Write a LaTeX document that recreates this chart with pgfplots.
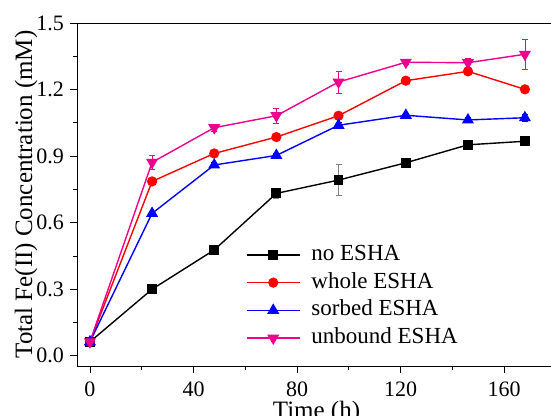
\documentclass[border=0pt]{standalone}
\usepackage{fontspec}
\setmainfont{Liberation Serif}
\usepackage{pgfplots}
\pgfplotsset{compat=1.18}
\begin{document}
\fontsize{23bp}{27bp}\selectfont
\begin{tikzpicture}
\begin{axis}[
  scale only axis, width=479bp, height=343bp,
  xmin=-5, xmax=180, ymin=-0.046, ymax=1.5,
  xtick={0,40,80,120,160}, minor x tick num=1,
  ytick={0,0.3,0.6,0.9,1.2,1.5}, minor y tick num=1,
  xtick pos=bottom, ytick pos=left,
  tick align=outside,
  major tick length=7bp, minor tick length=4bp,
  every tick/.style={black, line width=0.8bp},
  axis line style={line width=0.8bp},
  /pgf/number format/assume math mode=true,
  tick label style={font=\fontsize{22bp}{26bp}\selectfont},
  yticklabel style={/pgf/number format/fixed, /pgf/number format/fixed zerofill, /pgf/number format/precision=1, anchor=east, inner sep=0pt, xshift=-6bp},
  xticklabel style={anchor=base, inner sep=0pt, yshift=-23bp},
  xlabel={Time (h)},
  ylabel={Total Fe(II) Concentration (mM)},
  label style={font=\fontsize{25bp}{29bp}\selectfont},
  xlabel style={at={(axis description cs:0.5,-0.153)}, anchor=base, inner sep=0pt},
  ylabel style={at={(axis description cs:-0.106,0.5)}, anchor=center, inner sep=0pt},
  legend cell align=left,
  legend style={draw=none, fill=none, at={(rel axis cs:0.3525,0.355)}, anchor=north west, row sep=6.7bp, column sep=11bp, inner sep=0pt,
     nodes={inner sep=0pt, text height=16bp, text depth=5bp},
     font=\fontsize{23bp}{27bp}\selectfont},
  legend image code/.code={\draw[mark repeat=2,mark phase=2] plot coordinates {(0bp,0bp) (26.5bp,0bp) (53bp,0bp)};},
  every axis plot/.append style={line width=1.4bp},
  error bars/error bar style={line width=0.8bp},
  error bars/error mark options={rotate=90, mark size=3bp, line width=0.8bp},
]
\addplot[black, mark=square*, mark size=4.2bp, error bars/.cd, y dir=both, y explicit, error bar style={gray}, error mark options={rotate=90, mark size=3bp, gray}] coordinates {
(0,0.063) +- (0,0.005)
(24,0.300) +- (0,0.005)
(48,0.477) +- (0,0.005)
(72,0.732) +- (0,0.02)
(96,0.792) +- (0,0.07)
(122,0.870) +- (0,0.008)
(146,0.951) +- (0,0.02)
(168,0.967) +- (0,0.01)
};
\addlegendentry{no ESHA}
\addplot[red, mark=*, mark size=4.4bp, error bars/.cd, y dir=both, y explicit] coordinates {
(0,0.063) +- (0,0.005)
(24,0.786) +- (0,0.008)
(48,0.912) +- (0,0.008)
(72,0.986) +- (0,0.008)
(96,1.082) +- (0,0.008)
(122,1.240) +- (0,0.008)
(146,1.282) +- (0,0.008)
(168,1.201) +- (0,0.008)
};
\addlegendentry{whole ESHA}
\addplot[blue, mark=triangle*, mark size=5.6bp, error bars/.cd, y dir=both, y explicit] coordinates {
(0,0.063) +- (0,0.005)
(24,0.642) +- (0,0.008)
(48,0.860) +- (0,0.01)
(72,0.903) +- (0,0.01)
(96,1.039) +- (0,0.015)
(122,1.084) +- (0,0.01)
(146,1.063) +- (0,0.01)
(168,1.073) +- (0,0.015)
};
\addlegendentry{sorbed ESHA}
\addplot[magenta, mark=triangle*, mark options={rotate=180}, mark size=5.6bp, error bars/.cd, y dir=both, y explicit] coordinates {
(0,0.063) +- (0,0.005)
(24,0.872) +- (0,0.03)
(48,1.028) +- (0,0.015)
(72,1.082) +- (0,0.035)
(96,1.234) +- (0,0.05)
(122,1.323) +- (0,0.01)
(146,1.321) +- (0,0.02)
(168,1.359) +- (0,0.068)
};
\addlegendentry{unbound ESHA}
\end{axis}
\begin{axis}[
  scale only axis, width=479bp, height=343bp,
  xmin=-5, xmax=180, ymin=-0.046, ymax=1.5,
  axis lines=none, xtick={0,20,...,180}, ytick=\empty, xticklabels={},
  xtick pos=top, tick align=outside, major tick length=3bp,
]
\addplot[draw=none] coordinates {(0,0)};
\end{axis}
\pgfresetboundingbox
\path[use as bounding box] (-77bp,-50bp) rectangle (474bp,366bp);
\end{tikzpicture}
\end{document}
